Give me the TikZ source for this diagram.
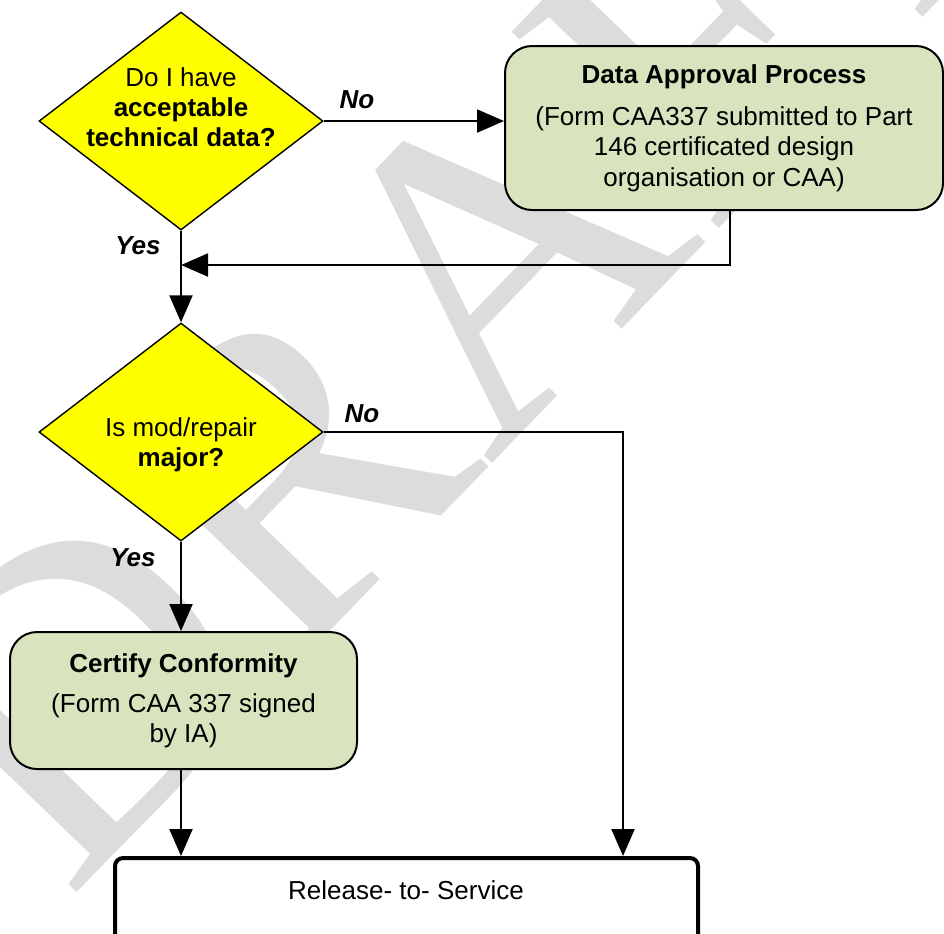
\documentclass[tikz,border=0pt]{standalone}
\usepackage{fontspec}
\setmainfont{Liberation Sans}
\newfontfamily\wmfont{Liberation Serif}
\usetikzlibrary{shapes.geometric,arrows.meta,calc}
\definecolor{qyellow}{HTML}{FFFF00}
\definecolor{boxgreen}{HTML}{D7E4BD}
\definecolor{wmgray}{HTML}{DCDCDC}

\begin{document}
\begin{tikzpicture}[x=0.1mm,y=-0.1mm,>={Triangle[length=2.7mm,width=2.3mm]},
        every node/.style={font=\fontsize{7.4}{8.6}\selectfont},
        decision/.style={diamond,draw,fill=qyellow,line width=0.14mm,
            minimum width=28.4mm,minimum height=21.8mm,inner sep=0pt},
        qtext/.style={align=center,inner sep=0pt},
        process/.style={rectangle,rounded corners=2.7mm,draw,fill=boxgreen,
            line width=0.2mm,align=center,inner sep=0pt},
        answer/.style={font=\fontsize{7.4}{8.6}\selectfont\bfseries\itshape,inner sep=0pt},
        flow/.style={->,line width=0.2mm},
        wmark/.style={font=\wmfont\fontsize{124}{124}\selectfont,text=wmgray,
            rotate=46,inner sep=0pt}]
        % fix the page size
        \useasboundingbox (0,0) rectangle (944,933);

        % draw the watermark behind everything
        \node[wmark] (draft) at (462,288) {DRAFT};

        % draw the two decisions
        \node[decision] (q1) at (181,121) {};
        \node[qtext] (q1t) at (181,107) {Do I have\\\textbf{acceptable}\\\textbf{technical data?}};
        \node[decision] (q2) at (181,432) {};
        \node[qtext] (q2t) at (181,445) {Is mod/repair\\\textbf{major?}};

        % draw the process boxes
        \node[process,minimum width=43.8mm,minimum height=16.4mm] (dap) at (724,128)
            {\textbf{Data Approval Process}\\[1.2mm]
             (Form CAA337 submitted to Part\\146 certificated design\\organisation or CAA)};
        \node[process,minimum width=34.7mm,minimum height=13.7mm] (cc) at (183.5,700.5)
            {\textbf{Certify Conformity}\\[1mm](Form CAA 337 signed\\by IA)};

        % the release box runs off the bottom of the page
        \node[rectangle,draw,fill=white,line width=0.4mm,rounded corners=0.8mm,
            minimum width=58.3mm,minimum height=8.7mm] (rel) at (406.5,901.5) {};
        \node[qtext] (relt) at (406,890) {Release- to- Service};

        % draw the connectors
        \coordinate (join) at (181,265);
        \draw[flow] (q1.east) -- (q1.east -| dap.west);
        \draw[flow] ([xshift=0.6mm]dap.south) |- (join);
        \draw[flow] (q1.south) -- (q2.north);
        \draw[flow] (q2.south) -- (q2.south |- cc.north);
        \draw[flow] (q2.east) -| ([xshift=21.65mm]rel.north);
        \draw[flow] (q2.south |- cc.south) -- (q2.south |- rel.north);

        % the answers on the branches
        \node[answer] (no1) at (357,100) {No};
        \node[answer] (yes1) at (138,246) {Yes};
        \node[answer] (no2) at (362,414) {No};
        \node[answer] (yes2) at (133,558) {Yes};
\end{tikzpicture}
\end{document}
